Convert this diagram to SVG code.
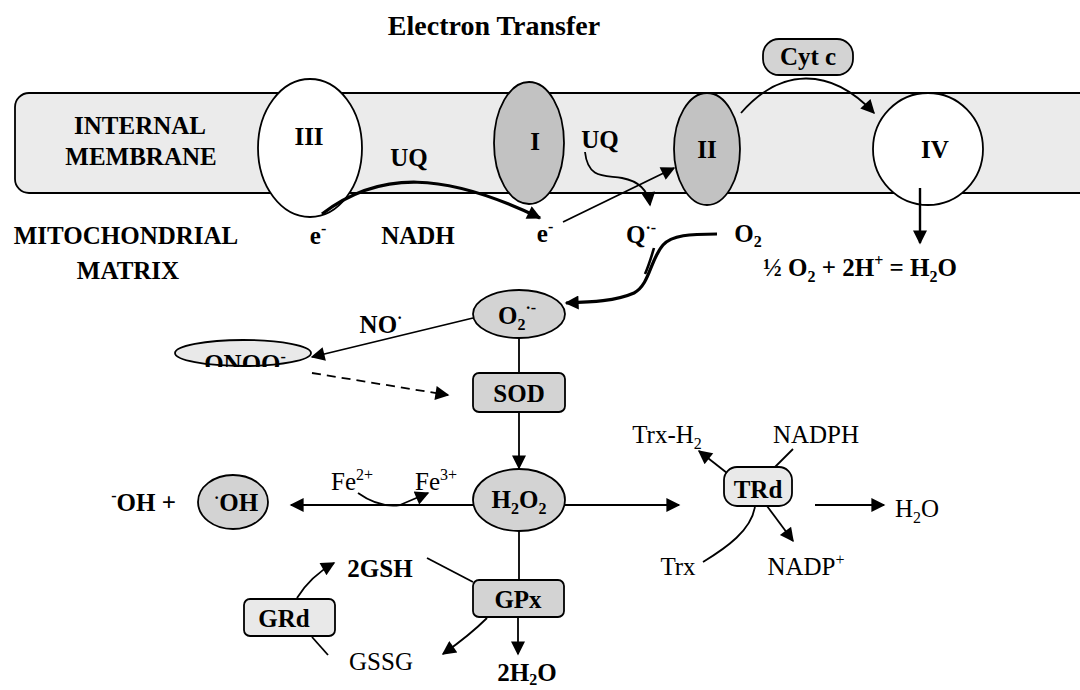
<svg xmlns="http://www.w3.org/2000/svg" width="1080" height="690" viewBox="0 0 1080 690">
<style>
text{font-family:"Liberation Serif","Times New Roman",serif;font-size:25px;fill:#000}
.b{font-weight:bold}
.c{text-anchor:middle}
.e{text-anchor:end}
.s{font-size:16px}
.ln{fill:none;stroke:#000;stroke-width:1.8}
.tk{fill:none;stroke:#000;stroke-width:3.2}
.nd{stroke:#000;stroke-width:1.8}
.g1{fill:#c2c2c2}
.g2{fill:#d3d3d3}
.g3{fill:#e9e9e9}
.w{fill:#fff}
</style>
<defs>
<marker id="ah" viewBox="0 0 10 10" refX="9" refY="5" markerWidth="16" markerHeight="14" markerUnits="userSpaceOnUse" orient="auto"><path d="M0,0 L10,5 L0,10 Z" fill="#000"/></marker>
<clipPath id="clipOnoo"><rect x="170" y="335" width="150" height="32"/></clipPath>
</defs>
<rect width="1080" height="690" fill="#fff"/>
<g id="title"><text class="b c" x="494" y="35" style="font-size:28px">Electron Transfer</text></g>
<g id="membrane">
<rect x="15" y="93" width="1090" height="100" rx="14" fill="#ebebeb" stroke="#000" stroke-width="1.8"/>
<text class="b c" x="140" y="134">INTERNAL</text>
<text class="b c" x="141" y="165">MEMBRANE</text>
</g>
<g id="matrix-label">
<text class="b c" x="126" y="244">MITOCHONDRIAL</text>
<text class="b c" x="128" y="279">MATRIX</text>
</g>
<g id="complexIII"><ellipse class="nd w" cx="310" cy="148" rx="52" ry="69"/><text class="b c" x="309" y="145">III</text></g>
<g id="complexI"><ellipse class="nd g1" cx="529" cy="143" rx="35" ry="61"/><text class="b c" x="535" y="150">I</text></g>
<g id="complexII"><ellipse class="nd g1" cx="707" cy="149" rx="33" ry="56"/><text class="b c" x="707" y="158">II</text></g>
<g id="complexIV"><ellipse class="nd w" cx="928" cy="149" rx="55" ry="56"/><text class="b c" x="935" y="158">IV</text></g>
<g id="cytc"><rect class="nd g2" x="763" y="39" width="90" height="36" rx="16"/><text class="b c" x="808" y="65">Cyt c</text></g>
<g id="labels-top">
<text class="b c" x="409" y="166">UQ</text>
<text class="b c" x="600" y="148">UQ</text>
<text class="b c" x="318" y="244">e<tspan class="s" dy="-10">-</tspan></text>
<text class="b c" x="418" y="244">NADH</text>
<text class="b c" x="545" y="242">e<tspan class="s" dy="-10">-</tspan></text>
<text class="b c" x="641" y="243">Q<tspan class="s" dy="-10">·-</tspan></text>
<text class="b c" x="748" y="242">O<tspan class="s" dy="5">2</tspan></text>
<text class="b" x="763" y="276">½ O<tspan class="s" dy="6">2</tspan><tspan dy="-6"> + 2H</tspan><tspan class="s" dy="-10">+</tspan><tspan dy="10"> = H</tspan><tspan class="s" dy="6">2</tspan><tspan dy="-6">O</tspan></text>
</g>
<g id="o2rad"><ellipse class="nd g2" cx="519" cy="314" rx="46" ry="24"/><text class="b c" x="517" y="324">O<tspan class="s" dy="6">2</tspan><tspan class="s" dy="-17">·-</tspan></text></g>
<g id="no-label"><text class="b c" x="381" y="333">NO<tspan class="s" dy="-10">·</tspan></text></g>
<g id="onoo"><ellipse class="nd g3" cx="243" cy="353" rx="68" ry="13"/><text class="b c" x="245" y="372" clip-path="url(#clipOnoo)">ONOO<tspan class="s" dy="-10">-</tspan></text></g>
<g id="sod"><rect class="nd g2" x="473" y="373" width="92" height="39" rx="6"/><text class="b c" x="519" y="402">SOD</text></g>
<g id="h2o2"><ellipse class="nd g2" cx="519" cy="500" rx="46" ry="31"/><text class="b c" x="519" y="508">H<tspan class="s" dy="6">2</tspan><tspan dy="-6">O</tspan><tspan class="s" dy="6">2</tspan></text></g>
<g id="oh"><ellipse class="nd g2" cx="233" cy="502" rx="35" ry="27"/><text class="b c" x="236" y="511"><tspan class="s" dy="-8">·</tspan><tspan dy="8">OH</tspan></text></g>
<g id="oh-minus"><text class="b e" x="176" y="511"><tspan class="s" dy="-10">-</tspan><tspan dy="10">OH +</tspan></text></g>
<g id="fe"><text x="352" y="490" class="c">Fe<tspan class="s" dy="-10">2+</tspan></text><text x="436" y="490" class="c">Fe<tspan class="s" dy="-10">3+</tspan></text></g>
<g id="trd"><rect class="nd g3" x="724" y="467" width="68" height="39" rx="13"/><text class="b c" x="758" y="498">TRd</text></g>
<g id="trd-labels">
<text class="c" x="667" y="443">Trx-H<tspan class="s" dy="6">2</tspan></text>
<text class="c" x="816" y="443">NADPH</text>
<text x="895" y="517">H<tspan class="s" dy="6">2</tspan><tspan dy="-6">O</tspan></text>
<text class="c" x="678" y="575">Trx</text>
<text class="c" x="806" y="575">NADP<tspan class="s" dy="-10">+</tspan></text>
</g>
<g id="gpx"><rect class="nd g2" x="473" y="580" width="91" height="37" rx="6"/><text class="b c" x="518" y="608">GPx</text></g>
<g id="grd"><rect class="nd g3" x="244" y="599" width="91" height="37" rx="6"/><text class="b c" x="284" y="627">GRd</text></g>
<g id="gsh-labels">
<text class="b c" x="380" y="577">2GSH</text>
<text class="c" x="381" y="670">GSSG</text>
<text class="b c" x="527" y="681">2H<tspan class="s" dy="4">2</tspan><tspan dy="-4">O</tspan></text>
</g>
<g id="connectors">
<path class="tk" d="M322,214 C380,170 445,172 540,218" marker-end="url(#ah)"/>
<path class="ln" d="M563,222 L674,168" marker-end="url(#ah)"/>
<path class="ln" d="M585,152 C588,180 606,175 622,178 C638,181 648,190 650,205" marker-end="url(#ah)"/>
<path class="ln" d="M741,113 C780,68 830,66 874,113" marker-end="url(#ah)"/>
<path class="ln" d="M920,188 L920,243" marker-end="url(#ah)" style="stroke-width:2.4"/>
<path class="tk" d="M717,234 C690,234 672,235 663,245 C650,260 650,284 634,293 C616,301 592,302 566,303" marker-end="url(#ah)"/>
<path class="ln" d="M654,248 C651,258 649,265 645,274" style="stroke-width:2.6"/>
<path class="ln" d="M473,318 L312,357" marker-end="url(#ah)"/>
<path class="ln" d="M312,373 L448,395" stroke-dasharray="9,6" marker-end="url(#ah)"/>
<path class="ln" d="M519,338 L519,373"/>
<path class="ln" d="M519,412 L519,468" marker-end="url(#ah)"/>
<path class="ln" d="M473,505 L291,505" marker-end="url(#ah)"/>
<path class="ln" d="M358,493 C372,503 386,507 400,505 L428,493" marker-end="url(#ah)"/>
<path class="ln" d="M565,505 L679,505" marker-end="url(#ah)"/>
<path class="ln" d="M727,473 L699,451" marker-end="url(#ah)"/>
<path class="ln" d="M793,449 L775,467"/>
<path class="ln" d="M815,505 L884,505" marker-end="url(#ah)"/>
<path class="ln" d="M755,506 C752,530 726,548 703,562"/>
<path class="ln" d="M767,506 L793,541" marker-end="url(#ah)"/>
<path class="ln" d="M519,531 L519,580"/>
<path class="ln" d="M427,558 L473,582"/>
<path class="ln" d="M297,598 C305,585 318,572 334,563" marker-end="url(#ah)"/>
<path class="ln" d="M312,637 L328,655"/>
<path class="ln" d="M487,618 C475,630 460,642 443,654" marker-end="url(#ah)"/>
<path class="ln" d="M518,618 L518,654" marker-end="url(#ah)"/>
</g>
</svg>
